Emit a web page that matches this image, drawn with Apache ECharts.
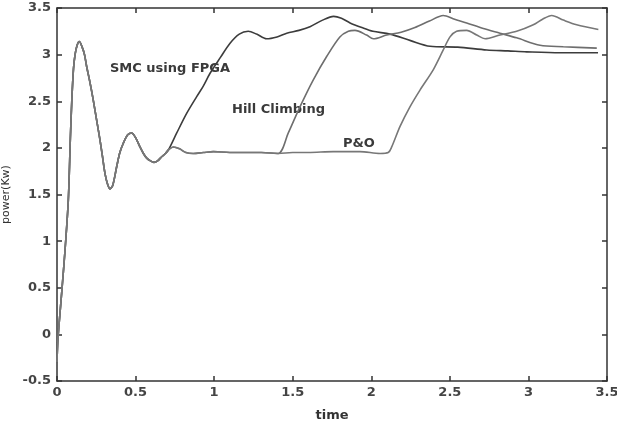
<!DOCTYPE html>
<html><head><meta charset="utf-8">
<script src="https://cdn.jsdelivr.net/npm/echarts@6/dist/echarts.min.js"></script>
<style>html,body{margin:0;padding:0;background:#fff}#c{width:617px;height:428px}</style>
</head><body><div id="c"></div>
<script>
// Shared start-up transient (all three methods)
var commonT = [0, 0.006, 0.03, 0.051, 0.072, 0.085, 0.094, 0.105, 0.115, 0.128, 0.142, 0.16, 0.175, 0.189, 0.21, 0.231, 0.252, 0.274, 0.29, 0.305, 0.32, 0.337, 0.355, 0.38, 0.40, 0.422, 0.45, 0.475, 0.50, 0.528, 0.55, 0.571, 0.595, 0.617, 0.64, 0.666, 0.69, 0.71];
var commonP = [-0.3, -0.05, 0.45, 0.9, 1.44, 2.1, 2.5, 2.85, 3.0, 3.1, 3.14, 3.08, 3.0, 2.87, 2.7, 2.51, 2.3, 2.08, 1.9, 1.73, 1.62, 1.56, 1.6, 1.80, 1.95, 2.05, 2.14, 2.16, 2.11, 2.01, 1.94, 1.89, 1.86, 1.845, 1.86, 1.905, 1.94, 1.98];
// SMC using FPGA
var smcT = [0.762, 0.825, 0.889, 0.93, 0.974, 1.04, 1.10, 1.16, 1.217, 1.27, 1.334, 1.40, 1.462, 1.54, 1.61, 1.69, 1.76, 1.81, 1.865, 1.94, 2.01, 2.119, 2.25, 2.374, 2.55, 2.735, 2.87, 2.989, 3.2, 3.443];
var smcP = [2.16, 2.37, 2.55, 2.66, 2.80, 2.97, 3.12, 3.22, 3.25, 3.22, 3.17, 3.19, 3.23, 3.26, 3.30, 3.37, 3.41, 3.39, 3.34, 3.29, 3.25, 3.22, 3.15, 3.09, 3.08, 3.05, 3.04, 3.03, 3.02, 3.02];
// Flat plateau shared by Hill Climbing and P&O
var flatT = [0.74, 0.78, 0.82, 0.867, 0.93, 0.995, 1.1, 1.2, 1.3, 1.408];
var flatP = [2.01, 1.99, 1.95, 1.94, 1.95, 1.96, 1.95, 1.95, 1.95, 1.94];
// Hill Climbing
var hcT = [1.472, 1.546, 1.631, 1.716, 1.80, 1.854, 1.896, 1.97, 2.013, 2.098, 2.19, 2.278, 2.37, 2.458, 2.53, 2.607, 2.713, 2.819, 2.925, 3.074, 3.222, 3.435];
var hcP = [2.16, 2.44, 2.73, 2.98, 3.19, 3.25, 3.26, 3.21, 3.17, 3.21, 3.24, 3.29, 3.36, 3.42, 3.38, 3.34, 3.28, 3.23, 3.18, 3.10, 3.085, 3.07];
// P&O
var poT = [1.5, 1.6, 1.758, 1.928, 2.056, 2.108, 2.13, 2.183, 2.246, 2.31, 2.395, 2.458, 2.501, 2.543, 2.607, 2.671, 2.724, 2.819, 2.925, 3.031, 3.09, 3.148, 3.222, 3.307, 3.445];
var poP = [1.95, 1.95, 1.96, 1.96, 1.94, 1.95, 2.01, 2.23, 2.44, 2.62, 2.84, 3.05, 3.19, 3.25, 3.26, 3.21, 3.17, 3.21, 3.25, 3.32, 3.38, 3.42, 3.37, 3.32, 3.27];

var xTicks = [0, 0.5, 1, 1.5, 2, 2.5, 3, 3.5];
var yTicks = [-0.5, 0, 0.5, 1, 1.5, 2, 2.5, 3, 3.5];
var labels = ['SMC using FPGA', 'Hill Climbing', 'P&O'];

function pairs(ts, ps) { return ts.map(function (t, i) { return [t, ps[i]]; }); }
var smcData = pairs(commonT, commonP).concat(pairs(smcT, smcP));
var hcData = pairs(commonT, commonP).concat(pairs(flatT, flatP)).concat(pairs(hcT, hcP));
var poData = pairs(commonT, commonP).concat(pairs(flatT, flatP)).concat(pairs(poT, poP));

var axisCol = '#333';
var tickFont = {fontFamily: 'DejaVu Sans', fontSize: 13, fontWeight: 'bold', color: '#444'};
function xAx(pos, show) {
  return {type: 'value', position: pos, min: xTicks[0], max: xTicks[xTicks.length - 1], interval: 0.5,
    axisLine: {show: true, onZero: false, lineStyle: {color: axisCol, width: 1.5}},
    axisTick: {show: true, inside: true, length: 5, lineStyle: {color: axisCol, width: 1.5}},
    axisLabel: Object.assign({show: show, margin: 5}, tickFont),
    splitLine: {show: false},
    name: show ? 'time' : '', nameLocation: 'middle', nameGap: 28,
    nameTextStyle: {fontFamily: 'DejaVu Sans', fontSize: 13, fontWeight: 'bold', color: '#333'}};
}
function yAx(pos, show) {
  return {type: 'value', position: pos, min: yTicks[0], max: yTicks[yTicks.length - 1], interval: 0.5,
    axisLine: {show: true, onZero: false, lineStyle: {color: axisCol, width: 1.5}},
    axisTick: {show: true, inside: true, length: 5, lineStyle: {color: axisCol, width: 1.5}},
    axisLabel: Object.assign({show: show, margin: 6}, tickFont),
    splitLine: {show: false},
    name: show ? 'power(Kw)' : '', nameLocation: 'middle', nameGap: 44, nameRotate: 90,
    nameTextStyle: {fontFamily: 'DejaVu Sans', fontSize: 11, color: '#333'}};
}
function ser(name, data, color) {
  return {name: name, type: 'line', data: data, showSymbol: false, symbol: 'none', smooth: 0.3,
    xAxisIndex: 0, yAxisIndex: 0, lineStyle: {color: color, width: 1.6}, animation: false};
}
var annFont = {fontFamily: 'DejaVu Sans', fontSize: 13, fontWeight: 'bold', fill: '#3a3a3a'};
var chart = echarts.init(document.getElementById('c'), null, {renderer: 'canvas'});
chart.setOption({
  animation: false,
  backgroundColor: '#fff',
  grid: {left: 57, right: 10, top: 8, bottom: 47, containLabel: false, outerBoundsMode: 'none'},
  xAxis: [xAx('bottom', true), xAx('top', false)],
  yAxis: [yAx('left', true), yAx('right', false)],
  series: [
    ser(labels[0], smcData, '#3c3c3c'),
    ser(labels[1], hcData, '#6e6e6e'),
    ser(labels[2], poData, '#777777')
  ],
  graphic: [
    {type: 'text', left: 110, top: 62, style: Object.assign({text: labels[0]}, annFont)},
    {type: 'text', left: 232, top: 103, style: Object.assign({text: labels[1]}, annFont)},
    {type: 'text', left: 343, top: 137, style: Object.assign({text: labels[2]}, annFont)}
  ]
});
</script></body></html>
